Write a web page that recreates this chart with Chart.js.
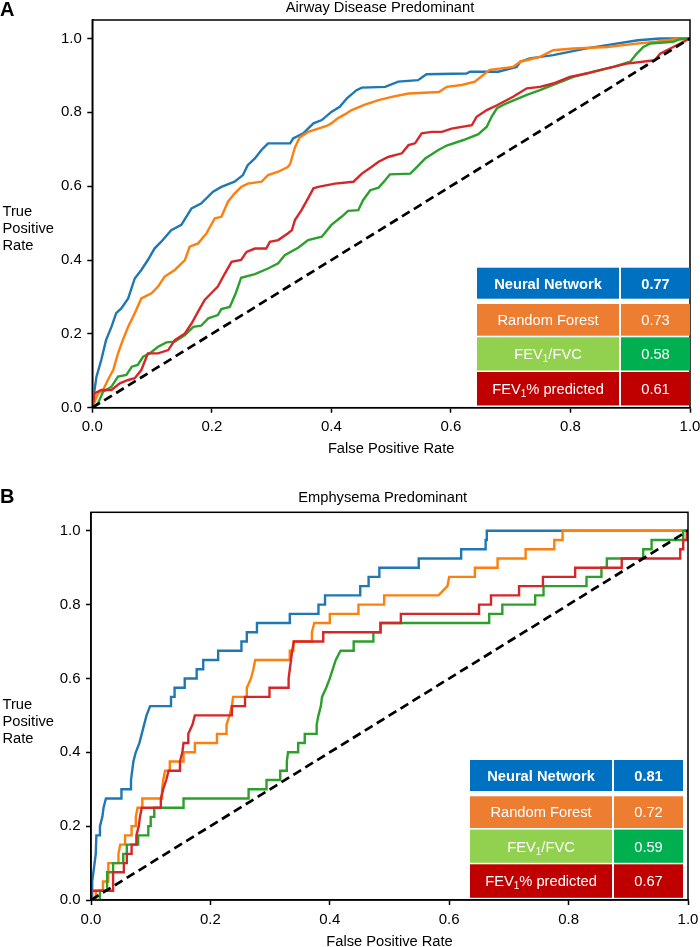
<!DOCTYPE html>
<html><head><meta charset="utf-8">
<script src="https://cdn.jsdelivr.net/npm/chart.js@4.4.1/dist/chart.umd.min.js"></script>
<style>
html,body{margin:0;padding:0;background:#fff;}
#wrap{position:relative;width:700px;height:947px;overflow:hidden;}
canvas{position:absolute;left:0;}
</style></head><body>
<div id="wrap">
<canvas id="cA" width="700" height="470" style="top:0;width:700px;height:470px"></canvas>
<canvas id="cB" width="700" height="477" style="top:470px;width:700px;height:477px"></canvas>
</div>
<script>
// ---------- data ----------
const TICKS = [0, 0.2, 0.4, 0.6, 0.8, 1.0];
const TICK_LABELS = ['0.0', '0.2', '0.4', '0.6', '0.8', '1.0'];
const MODELS = ['Neural Network', 'Random Forest', 'FEV_1/FVC', 'FEV_1% predicted'];
const AUC_AIRWAY = ['0.77', '0.73', '0.58', '0.61'];
const AUC_EMPH = ['0.81', '0.72', '0.59', '0.67'];
const CHANCE = [[0, 0], [1, 1]];

const AIRWAY_NN = [[0,0],[0.003,0.04],[0.007,0.084],[0.015,0.129],[0.023,0.183],[0.032,0.219],[0.040,0.256],[0.0485,0.269],[0.060,0.296],[0.071,0.350],[0.082,0.373],[0.093,0.400],[0.104,0.431],[0.115,0.449],[0.132,0.481],[0.149,0.495],[0.166,0.540],[0.182,0.553],[0.202,0.585],[0.216,0.598],[0.238,0.612],[0.252,0.630],[0.260,0.657],[0.272,0.675],[0.283,0.698],[0.294,0.716],[0.331,0.716],[0.336,0.729],[0.353,0.743],[0.361,0.756],[0.370,0.770],[0.384,0.779],[0.400,0.801],[0.414,0.815],[0.426,0.838],[0.442,0.860],[0.451,0.867],[0.490,0.869],[0.512,0.883],[0.545,0.887],[0.559,0.903],[0.626,0.905],[0.632,0.910],[0.679,0.910],[0.710,0.923],[0.716,0.937],[0.732,0.946],[0.771,0.955],[0.827,0.973],[0.861,0.982],[0.913,0.995],[0.950,1.0],[1,1]];
const AIRWAY_RF = [[0,0],[0.0095,0.039],[0.018,0.048],[0.026,0.075],[0.035,0.102],[0.043,0.147],[0.051,0.183],[0.060,0.219],[0.071,0.256],[0.082,0.296],[0.099,0.310],[0.110,0.328],[0.121,0.355],[0.138,0.373],[0.155,0.400],[0.163,0.436],[0.177,0.445],[0.191,0.472],[0.205,0.513],[0.216,0.517],[0.227,0.558],[0.238,0.580],[0.249,0.598],[0.260,0.607],[0.283,0.612],[0.294,0.630],[0.311,0.639],[0.327,0.652],[0.331,0.660],[0.339,0.705],[0.347,0.732],[0.361,0.747],[0.378,0.756],[0.392,0.763],[0.400,0.770],[0.409,0.782],[0.423,0.795],[0.434,0.806],[0.456,0.821],[0.479,0.833],[0.501,0.842],[0.529,0.851],[0.580,0.855],[0.593,0.869],[0.618,0.874],[0.640,0.883],[0.654,0.901],[0.665,0.915],[0.704,0.923],[0.716,0.937],[0.749,0.950],[0.771,0.968],[0.805,0.973],[0.861,0.977],[0.911,0.986],[0.944,0.991],[0.972,0.997],[1,1]];
const AIRWAY_FEV = [[0,0],[0.0095,0.012],[0.018,0.043],[0.032,0.057],[0.043,0.084],[0.057,0.089],[0.066,0.111],[0.076,0.116],[0.085,0.138],[0.096,0.147],[0.110,0.165],[0.124,0.177],[0.138,0.179],[0.155,0.197],[0.169,0.219],[0.182,0.222],[0.194,0.242],[0.210,0.251],[0.216,0.267],[0.230,0.273],[0.240,0.310],[0.249,0.352],[0.272,0.362],[0.294,0.377],[0.311,0.391],[0.322,0.413],[0.345,0.434],[0.361,0.454],[0.384,0.463],[0.400,0.495],[0.417,0.517],[0.428,0.533],[0.445,0.535],[0.453,0.562],[0.465,0.589],[0.479,0.596],[0.490,0.616],[0.498,0.632],[0.532,0.634],[0.545,0.655],[0.557,0.675],[0.579,0.698],[0.593,0.710],[0.621,0.725],[0.646,0.741],[0.660,0.761],[0.668,0.788],[0.677,0.811],[0.690,0.822],[0.727,0.847],[0.749,0.860],[0.771,0.874],[0.805,0.896],[0.838,0.910],[0.872,0.923],[0.900,0.937],[0.911,0.959],[0.922,0.977],[0.933,0.986],[0.972,0.991],[0.983,0.998],[1,1]];
const AIRWAY_FEVP = [[0,0],[0.004,0.039],[0.015,0.048],[0.032,0.048],[0.046,0.066],[0.060,0.075],[0.071,0.080],[0.082,0.102],[0.093,0.147],[0.110,0.147],[0.127,0.156],[0.138,0.183],[0.155,0.201],[0.166,0.228],[0.177,0.260],[0.188,0.292],[0.199,0.310],[0.210,0.328],[0.222,0.364],[0.233,0.395],[0.249,0.400],[0.258,0.422],[0.272,0.431],[0.291,0.431],[0.297,0.449],[0.311,0.454],[0.327,0.472],[0.334,0.481],[0.339,0.508],[0.350,0.535],[0.361,0.567],[0.370,0.594],[0.378,0.598],[0.406,0.607],[0.437,0.612],[0.451,0.634],[0.467,0.652],[0.479,0.666],[0.495,0.679],[0.518,0.689],[0.529,0.711],[0.540,0.716],[0.551,0.743],[0.568,0.747],[0.585,0.747],[0.601,0.756],[0.635,0.765],[0.643,0.788],[0.660,0.806],[0.677,0.819],[0.704,0.842],[0.727,0.865],[0.749,0.869],[0.771,0.878],[0.799,0.896],[0.827,0.905],[0.861,0.919],[0.894,0.932],[0.941,0.941],[0.950,0.959],[0.972,0.977],[1,1]];

const EMPH_NN = [[0,0],[0.002,0],[0.002,0.05],[0.004,0.075],[0.006,0.10],[0.008,0.125],[0.009,0.175],[0.015,0.175],[0.015,0.20],[0.019,0.225],[0.021,0.25],[0.025,0.275],[0.051,0.275],[0.051,0.30],[0.067,0.30],[0.067,0.325],[0.069,0.35],[0.071,0.375],[0.075,0.40],[0.081,0.425],[0.085,0.45],[0.089,0.475],[0.093,0.50],[0.099,0.525],[0.134,0.525],[0.134,0.55],[0.14,0.55],[0.14,0.575],[0.157,0.575],[0.157,0.60],[0.177,0.60],[0.177,0.625],[0.188,0.625],[0.188,0.65],[0.213,0.65],[0.213,0.675],[0.252,0.675],[0.252,0.70],[0.261,0.70],[0.261,0.725],[0.278,0.725],[0.278,0.75],[0.333,0.75],[0.333,0.775],[0.381,0.775],[0.381,0.80],[0.392,0.80],[0.392,0.825],[0.451,0.825],[0.451,0.85],[0.465,0.85],[0.465,0.875],[0.483,0.875],[0.483,0.90],[0.549,0.90],[0.549,0.925],[0.62,0.925],[0.62,0.95],[0.661,0.95],[0.661,0.975],[0.663,0.975],[0.663,1.0],[1,1]];
const EMPH_RF = [[0,0],[0.008,0],[0.008,0.025],[0.02,0.025],[0.02,0.05],[0.029,0.05],[0.029,0.10],[0.046,0.10],[0.046,0.125],[0.049,0.15],[0.057,0.15],[0.057,0.175],[0.068,0.175],[0.068,0.20],[0.075,0.20],[0.075,0.225],[0.078,0.25],[0.086,0.25],[0.086,0.275],[0.119,0.275],[0.119,0.30],[0.121,0.325],[0.124,0.35],[0.132,0.35],[0.132,0.375],[0.155,0.375],[0.155,0.40],[0.174,0.40],[0.174,0.425],[0.211,0.425],[0.211,0.45],[0.227,0.45],[0.227,0.475],[0.232,0.50],[0.236,0.525],[0.238,0.55],[0.261,0.55],[0.261,0.575],[0.268,0.60],[0.272,0.625],[0.275,0.65],[0.333,0.65],[0.333,0.675],[0.339,0.675],[0.339,0.70],[0.37,0.70],[0.37,0.725],[0.374,0.75],[0.40,0.75],[0.40,0.775],[0.448,0.775],[0.448,0.80],[0.491,0.80],[0.491,0.825],[0.582,0.825],[0.597,0.85],[0.60,0.875],[0.643,0.875],[0.643,0.90],[0.681,0.90],[0.681,0.925],[0.728,0.925],[0.728,0.95],[0.776,0.95],[0.776,0.975],[0.79,0.975],[0.79,1.0],[1,1]];
const EMPH_FEV = [[0,0],[0.015,0],[0.015,0.025],[0.027,0.025],[0.027,0.075],[0.037,0.075],[0.037,0.10],[0.054,0.10],[0.054,0.125],[0.06,0.125],[0.06,0.15],[0.079,0.15],[0.079,0.175],[0.096,0.175],[0.096,0.20],[0.1,0.20],[0.1,0.225],[0.106,0.225],[0.106,0.25],[0.155,0.25],[0.155,0.275],[0.264,0.275],[0.264,0.30],[0.294,0.30],[0.294,0.325],[0.317,0.325],[0.317,0.35],[0.328,0.35],[0.328,0.375],[0.33,0.40],[0.347,0.40],[0.347,0.425],[0.358,0.425],[0.358,0.45],[0.378,0.45],[0.378,0.475],[0.381,0.50],[0.385,0.525],[0.387,0.55],[0.394,0.575],[0.40,0.60],[0.405,0.625],[0.41,0.65],[0.418,0.675],[0.44,0.675],[0.44,0.70],[0.473,0.70],[0.473,0.725],[0.485,0.725],[0.485,0.75],[0.667,0.75],[0.667,0.775],[0.689,0.775],[0.689,0.80],[0.744,0.80],[0.744,0.825],[0.758,0.825],[0.758,0.85],[0.83,0.85],[0.83,0.875],[0.855,0.875],[0.855,0.90],[0.864,0.90],[0.864,0.925],[0.925,0.925],[0.925,0.95],[0.939,0.95],[0.939,0.975],[0.992,0.975],[0.992,1.0],[1,1]];
const EMPH_FEVP = [[0,0],[0,0.025],[0.037,0.025],[0.037,0.075],[0.055,0.075],[0.055,0.10],[0.06,0.10],[0.06,0.125],[0.068,0.125],[0.068,0.15],[0.076,0.15],[0.076,0.175],[0.08,0.20],[0.082,0.225],[0.085,0.25],[0.117,0.25],[0.117,0.275],[0.121,0.30],[0.126,0.325],[0.13,0.35],[0.149,0.35],[0.149,0.375],[0.153,0.40],[0.155,0.425],[0.163,0.425],[0.163,0.45],[0.17,0.475],[0.174,0.50],[0.236,0.50],[0.236,0.525],[0.258,0.525],[0.258,0.55],[0.299,0.55],[0.299,0.575],[0.331,0.575],[0.331,0.60],[0.333,0.625],[0.335,0.65],[0.337,0.675],[0.34,0.70],[0.389,0.70],[0.389,0.725],[0.485,0.725],[0.485,0.75],[0.519,0.75],[0.519,0.775],[0.65,0.775],[0.65,0.80],[0.67,0.80],[0.67,0.825],[0.717,0.825],[0.717,0.85],[0.757,0.85],[0.757,0.875],[0.811,0.875],[0.811,0.90],[0.889,0.90],[0.889,0.925],[0.987,0.925],[0.987,0.95],[0.992,0.95],[0.992,0.975],[0.998,0.975],[0.998,1.0],[1,1]];

// ---------- styles ----------
const FONT = '"Liberation Sans", Arial, Helvetica, sans-serif';
const LINE_COLORS = ['#1f77b4', '#ff7f0e', '#2ca02c', '#d62728'];
const CELL_LEFT = ['#0070C0', '#ED7D31', '#92D050', '#C00000'];
const CELL_RIGHT = ['#0070C0', '#ED7D31', '#00B050', '#C00000'];

const toXY = arr => arr.map(p => ({x: p[0], y: p[1]}));

const decor = {
  id: 'decor',
  afterDatasetsDraw(chart, args, o) {
    const {ctx, chartArea: a} = chart;
    ctx.save();
    ctx.strokeStyle = '#000'; ctx.lineWidth = 1.5;
    ctx.strokeRect(a.left, a.top, a.right - a.left, a.bottom - a.top);
    ctx.restore();
  },
  afterDraw(chart, args, o) {
    const {ctx, chartArea: a} = chart;
    ctx.save();
    ctx.fillStyle = '#000';
    // panel letter
    ctx.font = 'bold 20px ' + FONT; ctx.textAlign = 'left'; ctx.textBaseline = 'alphabetic';
    ctx.fillText(o.letter, 0, o.letterY);
    // title
    ctx.font = '14.7px ' + FONT; ctx.textAlign = 'center';
    ctx.fillText(o.title, o.titleX, o.titleY);
    // x title
    ctx.fillText('False Positive Rate', (a.left + a.right) / 2, a.bottom + 45.5);
    // y title
    ctx.textAlign = 'left';
    const mid = (a.top + a.bottom) / 2;
    ['True', 'Positive', 'Rate'].forEach((w, i) => ctx.fillText(w, 2.5, mid + 2.5 + i * 17));
    // table
    const right = a.right - o.tableRightOff, left = right - 213, div = 142;
    const rows = [[-140, -109], [-103.7, -72], [-70.4, -37.2], [-35.7, -2.2]];
    rows.forEach((r, i) => {
      const top = a.bottom + r[0], bot = a.bottom + r[1], h = bot - top;
      ctx.fillStyle = CELL_LEFT[i]; ctx.fillRect(left, top, div, h);
      ctx.fillStyle = CELL_RIGHT[i]; ctx.fillRect(left + div + 2, top, right - left - div - 2, h);
      const base = top + h / 2 + 5.3;
      const weight = i === 0 ? 'bold ' : '';
      ctx.fillStyle = '#fff';
      drawLabel(ctx, MODELS[i], left + div / 2, base, weight);
      ctx.font = weight + '14.7px ' + FONT; ctx.textAlign = 'center';
      ctx.fillText(o.auc[i], left + div + 2 + (right - left - div - 2) / 2, base);
    });
    ctx.restore();
  }
};

function drawLabel(ctx, label, cx, base, weight) {
  const parts = label.split('_1');
  const big = weight + '14.7px ' + FONT, small = weight + '10px ' + FONT;
  ctx.textAlign = 'left';
  const w = parts.map(p => { ctx.font = big; return ctx.measureText(p).width; });
  ctx.font = small; const ws = ctx.measureText('1').width;
  const total = w.reduce((s, v) => s + v, 0) + (parts.length - 1) * ws;
  let x = cx - total / 2;
  parts.forEach((p, i) => {
    ctx.font = big; ctx.fillText(p, x, base); x += w[i];
    if (i < parts.length - 1) { ctx.font = small; ctx.fillText('1', x, base + 3); x += ws; }
  });
}

function clearPad(s) { s.paddingLeft = 0; s.paddingRight = 0; s.paddingTop = 0; s.paddingBottom = 0; }

function makeChart(id, series, panel) {
  const datasets = [{data: toXY(CHANCE), borderColor: '#000', borderWidth: 2.7, borderDash: [9, 5], order: 0}];
  series.forEach((s, i) => datasets.push({data: toXY(s), borderColor: LINE_COLORS[i], borderWidth: 2.4, order: 4 - i}));
  const axisCommon = {
    type: 'linear',
    afterBuildTicks: s => { s.ticks = TICKS.map(v => ({value: v})); },
    grid: {display: true, drawOnChartArea: false, drawTicks: true, tickLength: 5, tickColor: '#000', tickWidth: 1.5},
    border: {display: true, color: '#000', width: 1.5},
  };
  return new Chart(document.getElementById(id), {
    type: 'scatter',
    data: {datasets},
    options: {
      responsive: false, animation: false,
      layout: {padding: {left: 0, right: panel.padRight, top: panel.padTop, bottom: 0}},
      plugins: {legend: {display: false}, tooltip: {enabled: false}, decor: panel},
      elements: {point: {radius: 0, hoverRadius: 0}, line: {tension: 0, fill: false}},
      showLine: true,
      scales: {
        x: Object.assign({}, axisCommon, {
          min: 0, max: 1,
          afterFit: s => { s.height = panel.xAxisH; clearPad(s); },
          ticks: {callback: v => TICK_LABELS[TICKS.indexOf(v)], color: '#000', font: {family: FONT, size: 15}, padding: 5.5, maxRotation: 0, autoSkip: false},
        }),
        y: Object.assign({}, axisCommon, {
          min: 0, max: 1.05,
          afterFit: s => { s.width = panel.yAxisW; clearPad(s); },
          ticks: {callback: v => TICK_LABELS[TICKS.indexOf(v)], color: '#000', font: {family: FONT, size: 15}, padding: 5.5, autoSkip: false},
        }),
      }
    },
    plugins: [decor]
  });
}

makeChart('cA', [AIRWAY_NN, AIRWAY_RF, AIRWAY_FEV, AIRWAY_FEVP], {
  letter: 'A', letterY: 15.5, title: 'Airway Disease Predominant', titleX: 380, titleY: 12,
  padTop: 20, padRight: 10, yAxisW: 92.3, xAxisH: 62.3, tableRightOff: 0, auc: AUC_AIRWAY
});
makeChart('cB', [EMPH_NN, EMPH_RF, EMPH_FEV, EMPH_FEVP], {
  letter: 'B', letterY: 32.7, title: 'Emphysema Predominant', titleX: 382.7, titleY: 32.2,
  padTop: 42.3, padRight: 12, yAxisW: 91, xAxisH: 47, tableRightOff: 5, auc: AUC_EMPH
});
</script>
</body></html>
